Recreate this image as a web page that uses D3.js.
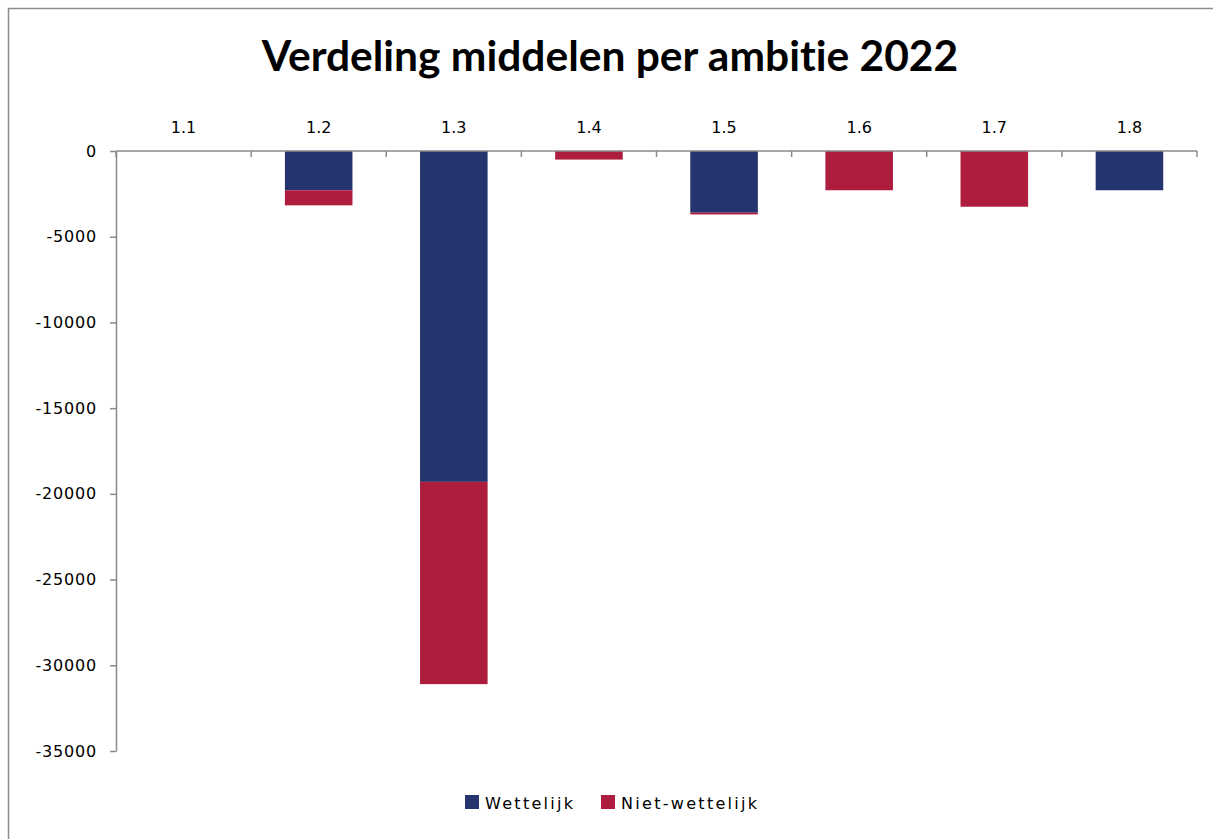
<!DOCTYPE html>
<html>
<head>
<meta charset="utf-8">
<script src="https://cdn.jsdelivr.net/npm/d3@7"></script>
<style>
  body { margin: 0; background: #fff; }
  svg { display: block; }
</style>
</head>
<body>
<svg id="chart"></svg>
<script>
const categories = ["1.1", "1.2", "1.3", "1.4", "1.5", "1.6", "1.7", "1.8"];
const wettelijk = [0, -2290, -19300, 0, -3600, 0, 0, -2290];
const nietWettelijk = [0, -880, -11800, -500, -100, -2290, -3250, 0];
const seriesNames = ["Wettelijk", "Niet-wettelijk"];
const yTicks = [0, -5000, -10000, -15000, -20000, -25000, -30000, -35000];

const width = 1213;
const height = 839;
const margin = { top: 151, right: 16, bottom: 88, left: 116 };
const colors = ["#23346E", "#AE1C3E"];
const axisColor = "#8a8a8a";
const labelFont = "'DejaVu Sans', sans-serif";

const svg = d3.select("#chart")
    .attr("width", width)
    .attr("height", height);

// frame
svg.append("path")
    .attr("d", `M8.5,${height} V8.5 H${width}`)
    .attr("fill", "none")
    .attr("stroke", "#8c8c8c")
    .attr("stroke-width", 1.5);

// title
svg.append("text")
    .attr("x", 610)
    .attr("y", 71)
    .attr("text-anchor", "middle")
    .attr("font-family", "Lato, 'Open Sans', sans-serif")
    .attr("font-weight", "bold")
    .attr("font-size", 42.5)
    .style("font-variant-ligatures", "none")
    .attr("fill", "#000")
    .text("Verdeling middelen per ambitie 2022");

const data = categories.map((c, i) => ({
    cat: c,
    Wettelijk: wettelijk[i],
    "Niet-wettelijk": nietWettelijk[i]
}));

const xScale = d3.scaleBand()
    .domain(categories)
    .range([margin.left, width - margin.right])
    .paddingInner(0.5)
    .paddingOuter(0.25);

const yScale = d3.scaleLinear()
    .domain([0, -35000])
    .range([margin.top, height - margin.bottom]);

// stacked (negative) bars
const stack = d3.stack()
    .keys(seriesNames)
    .offset(d3.stackOffsetDiverging);

const stacked = stack(data);

svg.append("g")
    .selectAll("g")
    .data(stacked)
    .join("g")
    .attr("fill", (d, i) => colors[i])
    .selectAll("rect")
    .data(d => d)
    .join("rect")
    .attr("x", d => xScale(d.data.cat))
    .attr("width", xScale.bandwidth())
    .attr("y", d => yScale(Math.max(d[0], d[1])))
    .attr("height", d => Math.abs(yScale(d[0]) - yScale(d[1])));

// y axis
const yAxis = svg.append("g")
    .attr("transform", `translate(${margin.left},0)`)
    .call(d3.axisLeft(yScale).tickValues(yTicks).tickSize(6).tickSizeOuter(0).tickPadding(13).tickFormat(d3.format("d")));
yAxis.select(".domain").attr("stroke", axisColor).attr("stroke-width", 1.5);
yAxis.selectAll(".tick line").attr("stroke", axisColor).attr("stroke-width", 1.5);
yAxis.selectAll(".tick text")
    .attr("font-family", labelFont)
    .attr("font-size", 16)
    .attr("letter-spacing", 0.8)
    .attr("fill", "#000")
    .text(d => d === 0 ? "0" : String(d).replace("−", "-"));

// x axis at zero, labels above
const xAxisG = svg.append("g")
    .attr("transform", `translate(0,${yScale(0)})`);
xAxisG.append("line")
    .attr("x1", margin.left)
    .attr("x2", width - margin.right)
    .attr("stroke", axisColor)
    .attr("stroke-width", 1.5);

const step = xScale.step();
const boundaries = d3.range(categories.length + 1).map(i => margin.left + i * step);
xAxisG.selectAll(".cat-tick")
    .data(boundaries)
    .join("line")
    .attr("class", "cat-tick")
    .attr("x1", d => d)
    .attr("x2", d => d)
    .attr("y1", 0)
    .attr("y2", 6)
    .attr("stroke", axisColor)
    .attr("stroke-width", 1.5);

xAxisG.selectAll(".cat-label")
    .data(categories)
    .join("text")
    .attr("class", "cat-label")
    .attr("x", d => xScale(d) + xScale.bandwidth() / 2)
    .attr("y", -18)
    .attr("text-anchor", "middle")
    .attr("font-family", labelFont)
    .attr("font-size", 16)
    .attr("fill", "#000")
    .text(d => d);

// legend
const legendItems = [
    { name: seriesNames[0], x: 465 },
    { name: seriesNames[1], x: 601 }
];
const legend = svg.append("g");
legend.selectAll("rect")
    .data(legendItems)
    .join("rect")
    .attr("x", d => d.x)
    .attr("y", 795)
    .attr("width", 14)
    .attr("height", 14)
    .attr("fill", (d, i) => colors[i]);
legend.selectAll("text")
    .data(legendItems)
    .join("text")
    .attr("x", d => d.x + 20)
    .attr("y", 809)
    .attr("font-family", labelFont)
    .attr("font-size", 16)
    .attr("letter-spacing", 2.3)
    .attr("fill", "#000")
    .text(d => d.name);
</script>
</body>
</html>
